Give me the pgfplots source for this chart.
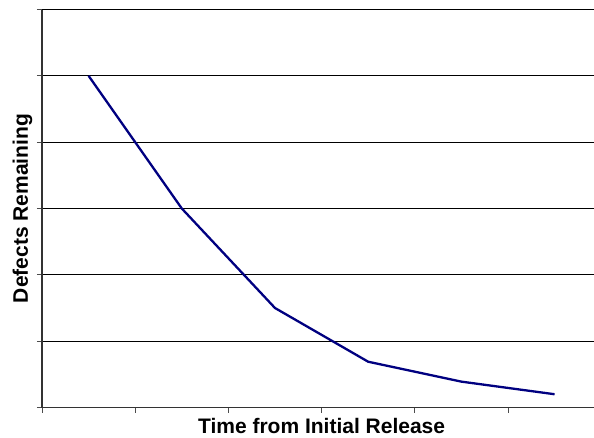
\documentclass[border=0pt]{standalone}
\usepackage{fontspec}
\setmainfont{Liberation Sans}
\usepackage{pgfplots}
\pgfplotsset{compat=1.18}
\definecolor{navyline}{RGB}{0,0,128}

\begin{document}
\begin{tikzpicture}
\begin{axis}[
    scale only axis,
    width=552pt, height=398pt,
    xmin=0, xmax=5.923,
    ymin=0, ymax=6,
    axis lines=left,
    axis line style={-, line width=1.2pt, black!80},
    xtick={0,1,2,3,4,5},
    ytick={0,1,2,3,4,5,6},
    xticklabels={}, yticklabels={},
    tick align=outside,
    major tick length=5pt,
    tick style={line width=0.9pt, black!70},
    ymajorgrids=true,
    grid style={line width=0.9pt, black},
    clip=false,
    xlabel={Time from Initial Release},
    ylabel={Defects Remaining},
    label style={font=\fontsize{21}{24}\selectfont\bfseries, inner sep=0pt},
    xlabel style={at={(axis description cs:0.5065,-0.0641)}, anchor=base},
    ylabel style={at={(axis description cs:-0.0254,0.5)}, anchor=base, rotate=0},
]
\addplot[color=navyline, line width=2.3pt, mark=none]
    coordinates {
    (0.5,5.0)(1.5,3.0)(2.5,1.5)(3.5,0.69)(4.5,0.39)(5.5,0.20)
    };
\end{axis}
\pgfresetboundingbox
\path[use as bounding box] (current axis.south west) ++(-42pt,-29.5pt) rectangle ++(594pt,437pt);
\end{tikzpicture}
\end{document}
